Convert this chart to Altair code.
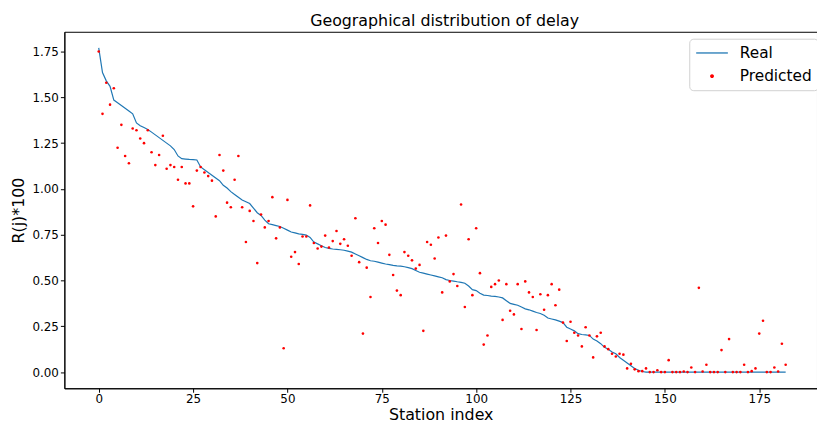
import altair as alt
import pandas as pd

station = list(range(183))

real = [
    1.77, 1.635, 1.59, 1.56, 1.485, 1.47, 1.455, 1.44, 1.425, 1.41,
    1.36, 1.345, 1.335, 1.325, 1.31, 1.295, 1.28, 1.265, 1.25, 1.235,
    1.215, 1.18, 1.165, 1.163, 1.161, 1.16, 1.158, 1.12, 1.105, 1.09,
    1.075, 1.06, 1.045, 1.02, 1.005, 0.985, 0.97, 0.955, 0.94, 0.93,
    0.92, 0.895, 0.87, 0.855, 0.83, 0.81, 0.805, 0.80, 0.795, 0.785,
    0.775, 0.765, 0.76, 0.755, 0.752, 0.748, 0.735, 0.71, 0.70, 0.69,
    0.68, 0.675, 0.672, 0.67, 0.668, 0.665, 0.66, 0.655, 0.645, 0.635,
    0.625, 0.615, 0.608, 0.605, 0.60, 0.595, 0.59, 0.587, 0.583, 0.58,
    0.578, 0.575, 0.57, 0.565, 0.555, 0.545, 0.54, 0.535, 0.53, 0.525,
    0.52, 0.515, 0.505, 0.50, 0.497, 0.493, 0.49, 0.485, 0.47, 0.45,
    0.445, 0.43, 0.42, 0.418, 0.415, 0.413, 0.41, 0.405, 0.39, 0.375,
    0.37, 0.365, 0.355, 0.345, 0.34, 0.333, 0.325, 0.32, 0.31, 0.295,
    0.29, 0.285, 0.278, 0.27, 0.245, 0.235, 0.225, 0.21, 0.205, 0.203,
    0.20, 0.18, 0.17, 0.155, 0.135, 0.125, 0.11, 0.10, 0.08, 0.065,
    0.05, 0.035, 0.02, 0.01, 0.003, 0.0, 0.0, 0.0, 0.0, 0.0,
    0.0, 0.0, 0.0, 0.0, 0.0, 0.0, 0.0, 0.0, 0.0, 0.0,
    0.0, 0.0, 0.0, 0.0, 0.0, 0.0, 0.0, 0.0, 0.0, 0.0,
    0.0, 0.0, 0.0, 0.0, 0.0, 0.0, 0.0, 0.0, 0.0, 0.0,
    0.0, 0.0, 0.0,
]

predicted = [
    1.75, 1.41, 1.58, 1.46, 1.55, 1.225, 1.35, 1.18, 1.14, 1.33,
    1.32, 1.275, 1.25, 1.32, 1.20, 1.13, 1.185, 1.29, 1.11, 1.13,
    1.12, 1.05, 1.12, 1.03, 1.03, 0.905, 1.10, 1.12, 1.09, 1.07,
    1.045, 0.85, 1.185, 1.10, 0.925, 0.90, 1.05, 1.18, 0.90, 0.71,
    0.88, 0.825, 0.595, 0.86, 0.79, 0.825, 0.955, 0.73, 0.79, 0.13,
    0.94, 0.63, 0.655, 0.59, 0.74, 0.74, 0.91, 0.705, 0.675, 0.685,
    0.745, 0.68, 0.715, 0.77, 0.70, 0.725, 0.69, 0.635, 0.84, 0.60,
    0.21, 0.57, 0.41, 0.785, 0.705, 0.825, 0.805, 0.64, 0.53, 0.445,
    0.42, 0.655, 0.635, 0.61, 0.565, 0.585, 0.225, 0.71, 0.695, 0.62,
    0.735, 0.435, 0.745, 0.495, 0.535, 0.47, 0.915, 0.355, 0.725, 0.42,
    0.785, 0.54, 0.15, 0.20, 0.465, 0.48, 0.50, 0.285, 0.48, 0.335,
    0.315, 0.48, 0.235, 0.495, 0.435, 0.41, 0.23, 0.425, 0.34, 0.42,
    0.48, 0.365, 0.45, 0.27, 0.17, 0.275, 0.215, 0.20, 0.14, 0.245,
    0.20, 0.08, 0.195, 0.215, 0.14, 0.125, 0.10, 0.085, 0.10, 0.095,
    0.02, 0.045, 0.015, 0.005, 0.005, 0.02, 0.0, 0.0, 0.01, 0.0,
    0.0, 0.065, 0.0, 0.0, 0.0, 0.003, 0.0, 0.025, 0.0, 0.46,
    0.003, 0.04, 0.0, 0.0, 0.0, 0.12, 0.0, 0.18, 0.0, 0.0,
    0.0, 0.04, 0.0, 0.005, 0.02, 0.21, 0.28, 0.0, 0.0, 0.025,
    0.003, 0.155, 0.04,
]

series_names = ["Real", "Predicted"]
series_colors = ["#1f77b4", "#ff0000"]

df = pd.concat([
    pd.DataFrame({"station": station, "value": real, "series": "Real"}),
    pd.DataFrame({"station": station, "value": predicted, "series": "Predicted"}),
])

FONT = "DejaVu Sans"
x_ticks = [0, 25, 50, 75, 100, 125, 150, 175]
y_ticks = [0.0, 0.25, 0.5, 0.75, 1.0, 1.25, 1.5, 1.75]

x_enc = alt.X("station:Q", scale=alt.Scale(domain=[-9.1, 190.3], nice=False, zero=False),
              axis=alt.Axis(values=x_ticks, title="Station index", grid=False, labelPadding=1,
                            titleY=32, titleBaseline="alphabetic"))
y_enc = alt.Y("value:Q", scale=alt.Scale(domain=[-0.0885, 1.858], nice=False, zero=False),
              axis=alt.Axis(values=y_ticks, format=".2f", title="R(j)*100", grid=False,
                            labelPadding=2, titlePadding=6))

color_scale = alt.Scale(domain=series_names, range=series_colors)
legend = alt.Legend(title=None, orient="none", legendX=631, legendY=7,
                    labelFontSize=15.5, labelFont=FONT, labelColor="#000",
                    strokeColor="#d0d0d0", fillColor="white", cornerRadius=4,
                    padding=5.4, rowPadding=6.6, symbolStrokeWidth=1.3, labelOffset=19,
                    symbolOffset=8.6)

line = alt.Chart(df).transform_filter(alt.datum.series == "Real").mark_line(
    strokeWidth=1.2).encode(
    x=x_enc, y=y_enc,
    color=alt.Color("series:N", scale=color_scale, legend=legend),
)

points = alt.Chart(df).transform_filter(alt.datum.series == "Predicted").mark_point(
    filled=True, opacity=1, strokeWidth=0).encode(
    x=x_enc, y=y_enc,
    color=alt.Color("series:N", scale=color_scale, legend=legend),
    stroke=alt.Stroke("series:N", scale=color_scale, legend=legend),
    shape=alt.Shape("series:N", scale=alt.Scale(domain=series_names, range=["M-2,0H2", "circle"]), legend=legend),
    size=alt.Size("series:N", scale=alt.Scale(domain=series_names, range=[256, 7]), legend=legend),
)

chart = alt.layer(line, points).properties(
    width=760, height=360,
    title=alt.TitleParams("Geographical distribution of delay", font=FONT, fontSize=16,
                          fontWeight="normal", color="#000", offset=3, dx=4),
    autosize=alt.AutoSizeParams(type="none"),
    padding={"left": 65, "top": 30, "right": 0, "bottom": 36},
).configure_axis(
    labelFont=FONT, labelFontSize=12, labelColor="#000",
    titleFont=FONT, titleFontSize=16, titleFontWeight="normal", titleColor="#000",
    domainColor="#000", tickColor="#000", tickSize=4,
).configure_view(
    stroke="#000", strokeWidth=1
)

chart.save("out.html", embed_options={"renderer": "svg", "actions": False})
